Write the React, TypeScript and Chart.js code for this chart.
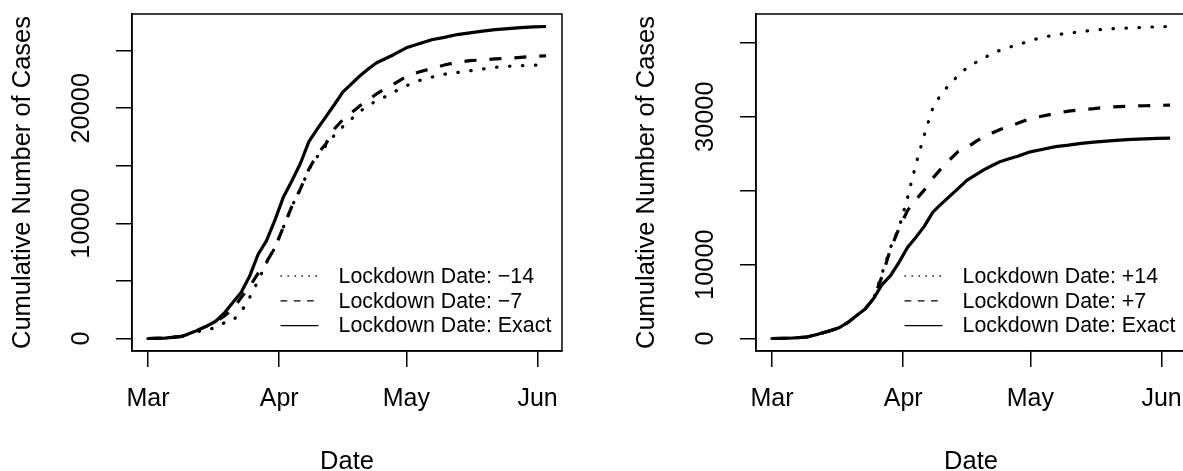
import React, { useEffect, useRef } from "react";
import { Chart, registerables } from "chart.js";

Chart.register(...registerables);
Chart.defaults.font.family = "'Liberation Sans', Arial, Helvetica, sans-serif";
Chart.defaults.color = "#000";

// Days since 1 March
const days = [0, 4, 8, 11, 14, 16, 18, 20, 22, 24, 26, 28, 30, 32, 34, 36, 38, 40, 42, 44, 46, 48, 50, 52, 54, 56, 58, 61, 64, 67, 70, 73, 76, 79, 82, 85, 88, 91, 94];

// Cumulative cases per scenario
const exact = [0, 40, 180, 600, 1100, 1500, 2200, 3100, 4000, 5400, 7300, 8500, 10300, 12300, 13700, 15200, 17100, 18200, 19250, 20300, 21400, 22100, 22800, 23400, 23950, 24300, 24650, 25250, 25600, 25950, 26150, 26400, 26550, 26700, 26830, 26920, 27000, 27060, 27100];
const minus7 = [0, 40, 180, 600, 1100, 1450, 1950, 2500, 3550, 4500, 5650, 6650, 7900, 9700, 11500, 13000, 14700, 16000, 16900, 18200, 19000, 19600, 20200, 20700, 21250, 21700, 22100, 22750, 23150, 23450, 23750, 24000, 24130, 24200, 24280, 24340, 24420, 24500, 24560];
const minus14 = [0, 40, 180, 580, 700, 1000, 1360, 1550, 2300, 3550, 5000, 6600, 7900, 9700, 11500, 12950, 14700, 15800, 16750, 17650, 18400, 19050, 19700, 20250, 20650, 21000, 21400, 21950, 22400, 22700, 22950, 23100, 23250, 23400, 23550, 23640, 23700, 23740, 23780];
const plus7 = [0, 40, 180, 600, 1100, 1500, 2200, 3100, 4000, 5400, 8400, 12100, 14900, 17300, 18800, 20100, 21700, 23000, 24200, 25300, 25800, 26600, 27300, 27800, 28300, 28700, 29100, 29750, 30100, 30450, 30750, 30950, 31100, 31300, 31350, 31420, 31480, 31530, 31570];
const plus14 = [0, 40, 180, 600, 1100, 1500, 2200, 3100, 4000, 5400, 8800, 12300, 15000, 19000, 23600, 27600, 31200, 33100, 34400, 35600, 36600, 37300, 37900, 38600, 39000, 39400, 39700, 40300, 40750, 41050, 41300, 41500, 41700, 41850, 41950, 42000, 42100, 42150, 42200];

// Axis ticks
const monthTicks = [0, 31, 61, 92];
const monthLabels = ["Mar", "Apr", "May", "Jun"];
const earlyTicks = [0, 5000, 10000, 15000, 20000, 25000];
const earlyTickLabels = ["0", "", "10000", "", "20000", ""];
const lateTicks = [0, 10000, 20000, 30000, 40000];
const lateTickLabels = ["0", "10000", "", "30000", ""];

// Legend labels
const earlyNames = ["Lockdown Date: \u221214", "Lockdown Date: \u22127", "Lockdown Date: Exact"];
const lateNames = ["Lockdown Date: +14", "Lockdown Date: +7", "Lockdown Date: Exact"];

const DOTTED = { dash: [0.5, 12.5], cap: "round", keyDash: [1.4, 5.6], keyCap: "butt" };
const DASHED = { dash: [12, 13], cap: "butt", keyDash: [6.7, 6.6], keyCap: "butt" };
const SOLID = { dash: [], cap: "butt", keyDash: [], keyCap: "butt" };

const frameAndKey = {
  id: "frameAndKey",
  afterDraw(chart: any) {
    const { ctx, chartArea: a } = chart;
    ctx.save();
    ctx.strokeStyle = "#000";
    ctx.lineWidth = 1.5;
    ctx.setLineDash([]);
    ctx.strokeRect(a.left, a.top, a.right - a.left, a.bottom - a.top);
    ctx.font = "21.4px 'Liberation Sans', Arial, Helvetica, sans-serif";
    ctx.fillStyle = "#000";
    ctx.textBaseline = "middle";
    ctx.textAlign = "left";
    chart.data.datasets.forEach((ds: any, i: number) => {
      const y = a.top + 262 + i * 24.8;
      ctx.lineWidth = 1.3;
      ctx.lineCap = ds.keyCap;
      ctx.setLineDash(ds.keyDash);
      ctx.beginPath();
      ctx.moveTo(a.left + 148.5, y);
      ctx.lineTo(a.left + 186.5, y);
      ctx.stroke();
      ctx.setLineDash([]);
      ctx.fillText(ds.label, a.left + 206.5, y + 1);
    });
    ctx.restore();
  },
};

function makeConfig(series: { values: number[]; style: any; name: string }[], yTicks: number[], yLabels: string[]) {
  const top = Math.max(...series.flatMap((s) => s.values));
  const bottom = Math.min(...series.flatMap((s) => s.values));
  const ySpan = top - bottom;
  const xSpan = days[days.length - 1] - days[0];
  return {
    type: "line",
    data: {
      datasets: series.map((s) => ({
        label: s.name,
        data: days.map((d, i) => ({ x: d, y: s.values[i] })),
        borderColor: "#000",
        borderWidth: 3.2,
        borderDash: s.style.dash,
        borderCapStyle: s.style.cap,
        borderJoinStyle: "round",
        keyDash: s.style.keyDash,
        keyCap: s.style.keyCap,
        pointRadius: 0,
        tension: 0,
        fill: false,
      })),
    },
    options: {
      responsive: false,
      animation: false,
      events: [],
      layout: { padding: { left: 0, right: 28, top: 14, bottom: 0 } },
      plugins: { legend: { display: false }, tooltip: { enabled: false } },
      scales: {
        x: {
          type: "linear",
          min: days[0] - 0.04 * xSpan,
          max: days[days.length - 1] + 0.04 * xSpan,
          afterBuildTicks: (s: any) => {
            s.ticks = monthTicks.map((v) => ({ value: v }));
          },
          afterFit: (s: any) => {
            s.height = 120;
          },
          ticks: {
            autoSkip: false,
            maxRotation: 0,
            padding: 17,
            font: { size: 25 },
            color: "#000",
            callback: (_v: any, i: number) => monthLabels[i],
          },
          grid: { drawOnChartArea: false, tickLength: 16, color: "#000", lineWidth: 1.5 },
          border: { display: true, color: "#000", width: 1.5 },
          title: {
            display: true,
            text: "Date",
            color: "#000",
            font: { size: 25.5, lineHeight: 0.7 },
            padding: 0,
          },
        },
        y: {
          type: "linear",
          min: bottom - 0.04 * ySpan,
          max: top + 0.04 * ySpan,
          afterBuildTicks: (s: any) => {
            s.ticks = yTicks.map((v) => ({ value: v }));
          },
          afterFit: (s: any) => {
            s.width = 132;
          },
          ticks: {
            autoSkip: false,
            minRotation: 90,
            maxRotation: 90,
            crossAlign: "center",
            padding: -1.5,
            font: { size: 25.4, family: "'Liberation Sans Narrow', 'Arial Narrow', 'Liberation Sans', sans-serif" },
            color: "#000",
            callback: (_v: any, i: number) => yLabels[i],
          },
          grid: { drawOnChartArea: false, tickLength: 16, color: "#000", lineWidth: 1.5 },
          border: { display: true, color: "#000", width: 1.5 },
          title: {
            display: true,
            text: "Cumulative Number of Cases",
            color: "#000",
            font: { size: 25.5 },
            padding: { top: 8, bottom: 0 },
          },
        },
      },
    },
    plugins: [frameAndKey],
  };
}

function Panel({ left, config }: { left: number; config: any }) {
  const ref = useRef<HTMLCanvasElement | null>(null);
  useEffect(() => {
    if (!ref.current) return;
    const chart = new Chart(ref.current, config);
    return () => chart.destroy();
  }, [config]);
  return (
    <canvas
      ref={ref}
      width={590}
      height={471}
      style={{ position: "absolute", left, top: 0, width: 590, height: 471, display: "block" }}
    />
  );
}

const earlyConfig = makeConfig(
  [
    { values: minus14, style: DOTTED, name: earlyNames[0] },
    { values: minus7, style: DASHED, name: earlyNames[1] },
    { values: exact, style: SOLID, name: earlyNames[2] },
  ],
  earlyTicks,
  earlyTickLabels
);

const lateConfig = makeConfig(
  [
    { values: plus14, style: DOTTED, name: lateNames[0] },
    { values: plus7, style: DASHED, name: lateNames[1] },
    { values: exact, style: SOLID, name: lateNames[2] },
  ],
  lateTicks,
  lateTickLabels
);

export default function App() {
  return (
    <div
      style={{
        position: "fixed",
        left: 0,
        top: 0,
        width: 1183,
        height: 471,
        overflow: "hidden",
        background: "#fff",
      }}
    >
      <Panel left={0} config={earlyConfig} />
      <Panel left={624} config={lateConfig} />
    </div>
  );
}
